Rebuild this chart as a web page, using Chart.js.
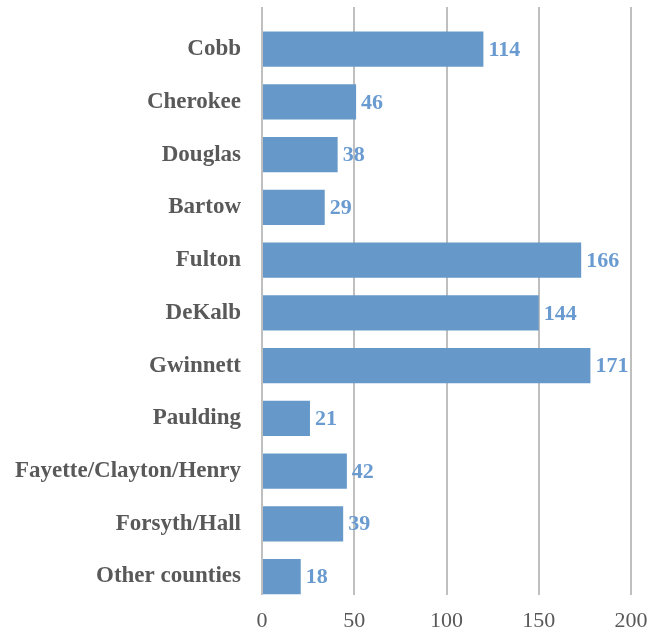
<!DOCTYPE html>
<html>
<head>
<meta charset="utf-8">
<script src="https://cdn.jsdelivr.net/npm/chart.js@4/dist/chart.umd.min.js"></script>
<style>
  html, body { margin: 0; padding: 0; background: #fff; }
  #wrap { width: 649px; height: 630px; }
</style>
</head>
<body>
<div id="wrap"><canvas id="countyChart"></canvas></div>
<script>
const counties = ['Cobb', 'Cherokee', 'Douglas', 'Bartow', 'Fulton', 'DeKalb', 'Gwinnett',
    'Paulding', 'Fayette/Clayton/Henry', 'Forsyth/Hall', 'Other counties'];
// bar lengths as drawn on the axis
const barValues = [120, 51, 41, 34, 173, 150, 178, 26, 46, 44, 21];
// numbers printed next to the bars
const labelValues = [114, 46, 38, 29, 166, 144, 171, 21, 42, 39, 18];
const xTicks = [0, 50, 100, 150, 200];

const textGray = '#595959';
const barBlue = '#6699c9';
const serif = "'Liberation Serif', 'Times New Roman', serif";

// writes the printed number just right of each bar end
const valueLabels = {
    id: 'valueLabels',
    afterDatasetsDraw(chart) {
        const ctx = chart.ctx;
        const meta = chart.getDatasetMeta(0);
        ctx.save();
        ctx.font = `bold 22px ${serif}`;
        ctx.fillStyle = '#6a9bd0';
        ctx.textAlign = 'left';
        ctx.textBaseline = 'middle';
        meta.data.forEach((bar, i) => {
            ctx.fillText(String(labelValues[i]), bar.x + 5, bar.y + 1);
        });
        ctx.restore();
    }
};

new Chart(document.getElementById('countyChart'), {
    type: 'bar',
    data: {
        datasets: [{
            data: barValues.map((v, i) => ({ x: v, y: i })),
            backgroundColor: barBlue,
            borderWidth: 0,
            categoryPercentage: 1.0,
            barPercentage: 0.67
        }]
    },
    options: {
        indexAxis: 'y',
        responsive: true,
        maintainAspectRatio: false,
        animation: false,
        layout: { padding: { top: 7, right: 18, left: 0, bottom: 0 } },
        plugins: {
            legend: { display: false },
            tooltip: { enabled: false }
        },
        scales: {
            x: {
                type: 'linear',
                min: 0,
                max: 200,
                afterBuildTicks: s => { s.ticks = xTicks.map(v => ({ value: v })); },
                afterFit: s => { s.height = 35; s.paddingLeft = 0; s.paddingRight = 0; },
                grid: { color: '#bfbfbf', lineWidth: 2, drawTicks: false },
                border: { display: false },
                ticks: {
                    padding: 13,
                    color: textGray,
                    font: { family: serif, size: 22 }
                }
            },
            y: {
                type: 'linear',
                reverse: true,
                offset: false,
                min: -0.8,
                max: 10.35,
                afterBuildTicks: s => { s.ticks = counties.map((c, i) => ({ value: i })); },
                afterFit: s => { s.width = 262; s.paddingTop = 0; s.paddingBottom = 0; },
                grid: { display: false, drawTicks: false },
                border: { display: false },
                ticks: {
                    padding: 21,
                    color: textGray,
                    font: { family: serif, size: 23, weight: 'bold' },
                    callback: v => counties[v]
                }
            }
        }
    },
    plugins: [valueLabels]
});
</script>
</body>
</html>
